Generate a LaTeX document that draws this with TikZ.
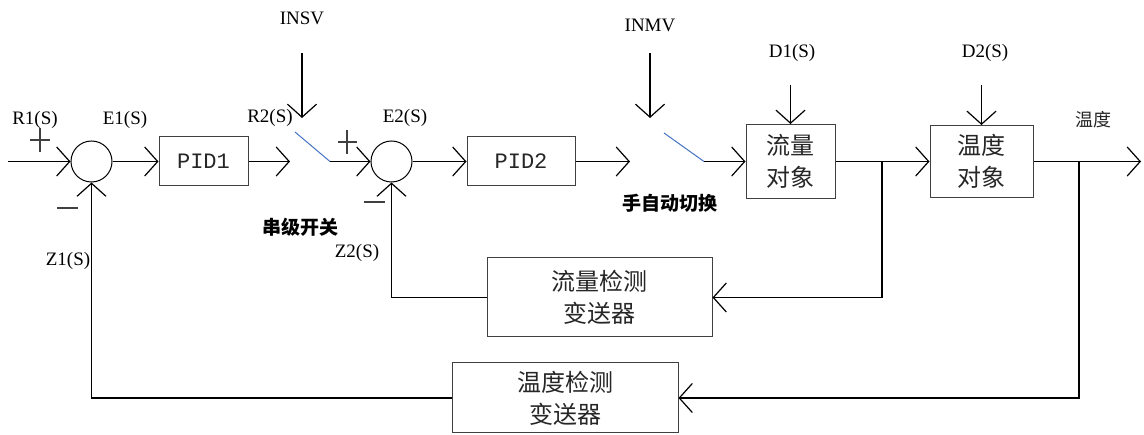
\documentclass[tikz,border=0pt]{standalone}
\usepackage{fontspec}
\setmainfont{Liberation Serif}
\newfontfamily\cjk{Noto Sans CJK SC}
\newfontfamily\monofam{Liberation Mono}
\usetikzlibrary{arrows.meta}
\definecolor{switchblue}{RGB}{68,114,196}
\begin{document}
\begin{tikzpicture}[x=1pt,y=-1pt,
  line/.style={line width=1.2pt},
  arr/.style={line width=1.2pt, -{Straight Barb[length=13pt,width=29pt]}},
  blk/.style={draw=black!75, line width=1pt, rectangle, inner sep=0pt},
  sum/.style={draw, circle, line width=1pt, minimum size=41pt, inner sep=0pt},
  lab/.style={font=\fontsize{19}{19}\selectfont, inner sep=0pt},
  cjkbox/.style={font=\cjk\fontsize{24}{32}\selectfont, align=center, text=black!85},
  cjkbold/.style={font=\cjk\bfseries\fontsize{19}{19}\selectfont, inner sep=0pt},
  pidtxt/.style={font=\monofam\fontsize{22}{22}\selectfont, text=black!85},
  sw/.style={draw=switchblue, line width=1pt},
  sign/.style={line width=1.2pt, draw=black!75}]
\useasboundingbox (0,0) rectangle (1144,435);

% summing junctions
\node[sum] (s1) at (91.5,161.5) {};
\node[sum] (s2) at (391.5,161.5) {};

% forward path blocks
\node[blk, pidtxt, minimum width=89pt, minimum height=49pt] (pid1) at (203.5,161.5) {PID1};
\node[blk, pidtxt, minimum width=108pt, minimum height=49pt] (pid2) at (521,161.5) {PID2};
\node[blk, cjkbox, minimum width=89pt, minimum height=74pt] (fo) at (790.5,161.5) {流量\\对象};
\node[blk, cjkbox, minimum width=103pt, minimum height=72pt] (to) at (981.5,161.5) {温度\\对象};

% feedback blocks
\node[blk, cjkbox, minimum width=225pt, minimum height=79pt] (fd) at (599.5,297.5) {流量检测\\变送器};
\node[blk, cjkbox, minimum width=226pt, minimum height=70pt] (td) at (565,398) {温度检测\\变送器};

% free ends and switch contacts
\coordinate (in) at (8,161.5);
\coordinate (a1) at (290,161.5);
\coordinate (k1a) at (295,132);
\coordinate (k1b) at (330,161.5);
\coordinate (a2) at (630,161.5);
\coordinate (k2a) at (664,133);
\coordinate (k2b) at (704,161.5);
\coordinate (out) at (1141,161.5);
\coordinate (b1) at (882,161.5);
\coordinate (b2) at (1079,161.5);
\coordinate (insv) at (302,53);
\coordinate (insvtip) at (302,118);
\coordinate (inmv) at (650,53);
\coordinate (inmvtip) at (650,118);
\coordinate (d1) at (790.5,85);
\coordinate (d2) at (981.5,85);

% labels
\node[lab] (r1l) at (35,120) {R1(S)};
\node[lab] (e1l) at (125,120) {E1(S)};
\node[lab] (r2l) at (270,118) {R2(S)};
\node[lab] (e2l) at (405,118) {E2(S)};
\node[lab] (insvl) at (302,18) {INSV};
\node[lab] (inmvl) at (650,25) {INMV};
\node[lab] (d1l) at (792,53) {D1(S)};
\node[lab] (d2l) at (985,53) {D2(S)};
\node[lab] (z1l) at (68,261) {Z1(S)};
\node[lab] (z2l) at (357,253) {Z2(S)};
\node[font=\cjk\fontsize{18}{18}\selectfont, text=black!85, inner sep=0pt] (outl) at (1093,120) {温度};
\node[cjkbold] (cascl) at (300,227) {串级开关};
\node[cjkbold] (manl) at (670,203) {手自动切换};

% signs at the junctions
\draw[sign] (30,140) -- (50,140) (40,128) -- (40,152);
\draw[sign] (57,208) -- (78,208);
\draw[sign] (338,142) -- (357,142) (347,130) -- (347,154);
\draw[sign] (364,202) -- (385,202);

% forward path
\draw[arr] (in) -- (s1);
\draw[arr] (s1) -- (pid1);
\draw[arr] (pid1) -- (a1);
\draw[sw] (k1a) -- (k1b);
\draw[arr] (k1b) -- (s2);
\draw[arr] (s2) -- (pid2);
\draw[arr] (pid2) -- (a2);
\draw[sw] (k2a) -- (k2b);
\draw[arr] (k2b) -- (fo);
\draw[arr] (fo) -- (to);
\draw[arr] (to) -- (out);

% external inputs
\draw[arr] (insv) -- (insvtip);
\draw[arr] (inmv) -- (inmvtip);
\draw[arr] (d1) -- (fo.north);
\draw[arr] (d2) -- (to.north);

% feedback paths
\draw[arr] (b1) |- (fd.east);
\draw[arr] (fd.west) -| (s2.south);
\draw[arr] (b2) |- (td.east);
\draw[arr] (td.west) -| (s1.south);
\end{tikzpicture}
\end{document}
